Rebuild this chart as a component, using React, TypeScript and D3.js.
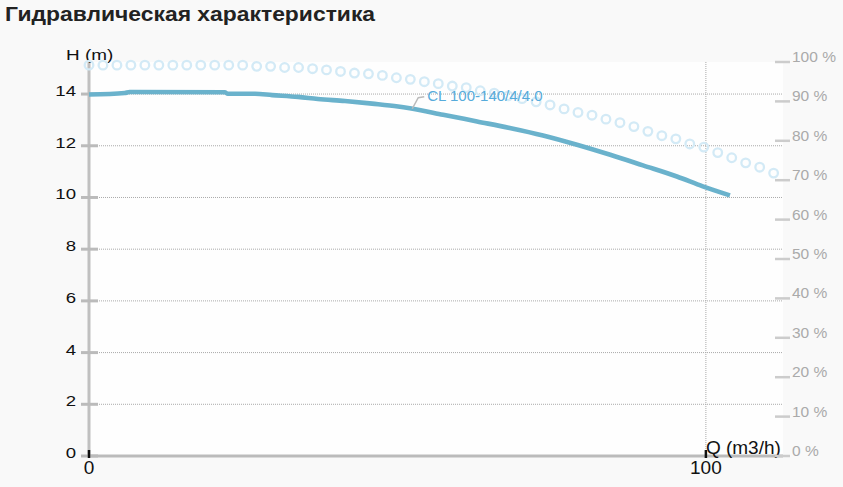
import * as d3 from 'd3';

// Head curve H(Q)
const HEAD_Q = [0, 5.8, 6.6, 22.0, 22.5, 26.9, 29.7, 33.9, 37.1, 41.5, 45.9, 50.1, 52.0, 57.4, 62.9, 68.2, 73.6, 79.1, 84.5, 89.8, 95.3, 99.5, 103.9];
const HEAD_H = [13.98, 14.04, 14.08, 14.07, 14.01, 14.01, 13.96, 13.89, 13.81, 13.73, 13.63, 13.52, 13.45, 13.2, 12.94, 12.69, 12.4, 12.04, 11.65, 11.24, 10.81, 10.43, 10.08];

// Efficiency points (%), one circle each
const EFF_Q = [
  0, 2.26, 4.53, 6.79, 9.06, 11.32, 13.59, 15.85, 18.12, 20.38,
  22.65, 24.91, 27.18, 29.44, 31.71, 33.97, 36.24, 38.5, 40.77, 43.03,
  45.3, 47.56, 49.83, 52.09, 54.36, 56.62, 58.89, 61.15, 63.42, 65.68,
  67.95, 70.21, 72.48, 74.74, 77.01, 79.27, 81.54, 83.8, 86.07, 88.33,
  90.6, 92.86, 95.13, 97.39, 99.66, 101.92, 104.19, 106.45, 108.72, 110.98,
];
const EFF_PCT = [
  99.2, 99.2, 99.2, 99.2, 99.2, 99.2, 99.2, 99.2, 99.2, 99.2,
  99.2, 99.2, 98.9, 98.9, 98.6, 98.6, 98.3, 98.0, 97.6, 97.2,
  97.0, 96.6, 96.0, 95.6, 95.0, 94.5, 93.9, 93.5, 92.7, 92.1,
  91.4, 90.7, 89.9, 89.1, 88.1, 87.2, 86.5, 85.5, 84.6, 83.6,
  82.4, 81.3, 80.5, 79.2, 78.4, 77.0, 75.7, 74.4, 73.3, 71.8,
];

const H_TICKS = [0, 2, 4, 6, 8, 10, 12, 14];
const H_GRID = [2, 4, 6, 8, 10, 12, 14];
const Q_TICKS = [0, 100];
const EFF_TICKS = [0, 10, 20, 30, 40, 50, 60, 70, 80, 90, 100];

const TITLE = 'Гидравлическая характеристика';
const PUMP_NAME = 'CL 100-140/4/4.0';
const LABEL_AT_Q = 52.4;

const W = 843;
const H = 487;
const plot = { left: 89, right: 783, top: 62, bottom: 456 };
const FONT = '"Liberation Sans", Arial, sans-serif';

export default function App() {
  const x = d3.scaleLinear().domain([0, 112.5]).range([plot.left, plot.right]);
  const yH = d3.scaleLinear().domain([0, 15.24]).range([plot.bottom, plot.top]);
  const yE = d3.scaleLinear().domain([0, 100]).range([plot.bottom, plot.top]);

  const headPts = HEAD_Q.map((q, i) => [q, HEAD_H[i]] as [number, number]);
  const headLine = d3.line<[number, number]>()
    .x(d => x(d[0]))
    .y(d => yH(d[1]))
    .curve(d3.curveMonotoneX);

  // label anchor sits on the curve
  const labelH = d3.scaleLinear().domain(HEAD_Q).range(HEAD_H)(LABEL_AT_Q);
  const lx = x(LABEL_AT_Q);
  const ly = yH(labelH);

  return (
    <div style={{ position: 'fixed', left: 0, top: 0, width: W, height: H, background: '#f9f9f9' }}>
      <svg width={W} height={H} style={{ display: 'block', fontFamily: FONT }}>
        <text transform="translate(5,21) scale(1.09,1)" fontSize={21} fontWeight="bold" fill="#222">{TITLE}</text>

        <rect x={plot.left} y={plot.top} width={plot.right - plot.left} height={plot.bottom - plot.top} fill="#fefefe" />

        {/* grid */}
        {H_GRID.map(t => (
          <line key={'g' + t} x1={plot.left} x2={plot.right} y1={yH(t)} y2={yH(t)}
            stroke="#aaa" strokeWidth={1} strokeDasharray="1,1" />
        ))}
        <line x1={x(100)} x2={x(100)} y1={plot.top} y2={plot.bottom} stroke="#aaa" strokeWidth={1} strokeDasharray="1,1" />

        {/* left axis */}
        <line x1={plot.left} x2={plot.left} y1={plot.top} y2={plot.bottom + 1} stroke="#c0c0c0" strokeWidth={3} />
        {H_TICKS.map(t => (
          <g key={'h' + t}>
            <line x1={81} x2={98} y1={yH(t)} y2={yH(t)} stroke="#bbb" strokeWidth={3} />
            <text transform={`translate(76,${yH(t) + 2}) scale(1.2,1)`} textAnchor="end" fontSize={15.5} fill="#111">{t}</text>
          </g>
        ))}
        <text transform="translate(66,60) scale(1.22,1)" fontSize={15.5} fill="#111">H (m)</text>

        {/* bottom axis */}
        <line x1={plot.left} x2={plot.right} y1={plot.bottom} y2={plot.bottom} stroke="#bbb" strokeWidth={3} />
        {Q_TICKS.map(t => (
          <g key={'q' + t}>
            <line x1={x(t)} x2={x(t)} y1={450} y2={458} stroke="#111" strokeWidth={2.5} />
            <text x={x(t)} y={474} textAnchor="middle" fontSize={19} fill="#111">{t}</text>
          </g>
        ))}
        <text x={x(100)} y={454} fontSize={19} fill="#111">Q (m3/h)</text>

        {/* right axis */}
        {EFF_TICKS.map(t => (
          <g key={'e' + t}>
            <line x1={775} x2={790} y1={yE(t)} y2={yE(t)} stroke="#ccc" strokeWidth={2.5} />
            <text x={792} y={yE(t)} fontSize={15.5} fill="#aaa">{t} %</text>
          </g>
        ))}

        {/* efficiency */}
        {EFF_Q.map((q, i) => (
          <circle key={'c' + i} cx={x(q)} cy={yE(EFF_PCT[i])} r={4.3} fill="none" stroke="#d3eaf6" strokeWidth={2.3} />
        ))}

        {/* head */}
        <path d={headLine(headPts) ?? ''} fill="none" stroke="#6ab2cc" strokeWidth={4.6} strokeLinejoin="round" />

        {/* curve label */}
        <path d={`M${lx},${ly} L${lx + 6},${ly - 11} L${lx + 12},${ly - 12}`} fill="none" stroke="#bbb" strokeWidth={1.5} />
        <text x={lx + 15} y={ly - 8} fontSize={15} fill="#56abdb">{PUMP_NAME}</text>
      </svg>
    </div>
  );
}
